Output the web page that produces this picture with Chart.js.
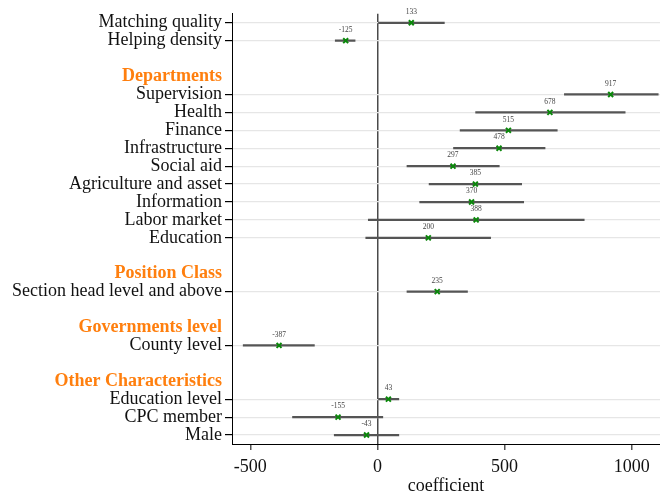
<!DOCTYPE html>
<html>
<head>
<meta charset="utf-8">
<script src="https://cdn.jsdelivr.net/npm/chart.js@4.4.1/dist/chart.umd.min.js"></script>
<style>
  body { margin: 0; background: #fff; }
  #wrap { width: 660px; height: 494px; }
</style>
</head>
<body>
<div id="wrap"><canvas id="CoefChart"></canvas></div>
<script>
// rows from top to bottom; null coef = header or spacer row
const rowLabels = ['Matching quality', 'Helping density', ' ', 'Departments', 'Supervision', 'Health', 'Finance',
    'Infrastructure', 'Social aid', 'Agriculture and asset', 'Information', 'Labor market', 'Education', '  ',
    'Position Class', 'Section head level and above', '   ', 'Governments level', 'County level', '    ',
    'Other Characteristics', 'Education level', 'CPC member', 'Male'];
const headerRows = ['Departments', 'Position Class', 'Governments level', 'Other Characteristics'];
const coefs = [133, -125, null, null, 917, 678, 515, 478, 297, 385, 370, 388, 200, null,
    null, 235, null, null, -387, null, null, 43, -155, -43];
const ciLow = [4, -166, null, null, 735, 386, 325, 299, 116, 203, 166, -36, -46, null,
    null, 116, null, null, -528, null, null, 4, -334, -170];
const ciHigh = [263, -88, null, null, 1104, 974, 707, 659, 479, 567, 575, 813, 445, null,
    null, 354, null, null, -248, null, null, 84, 21, 84];
const xTicks = [-500, 0, 500, 1000];

const isData = i => coefs[i] !== null;

const valueLabels = {
    id: 'valueLabels',
    afterDatasetsDraw(chart) {
        const ctx = chart.ctx;
        const xs = chart.scales.x, ys = chart.scales.y;
        ctx.save();
        ctx.font = '7.5px "Liberation Serif"';
        ctx.fillStyle = '#444';
        ctx.textAlign = 'center';
        ctx.textBaseline = 'bottom';
        coefs.forEach((v, i) => {
            if (v === null) return;
            ctx.fillText(String(v), xs.getPixelForValue(v), ys.getPixelForValue(i) - 7);
        });
        ctx.restore();
    }
};

const ctxCoef = document.getElementById('CoefChart');
const dataCoef = {
    labels: rowLabels,
    datasets: [
        {
            type: 'scatter',
            label: 'coef',
            data: coefs.map((v, i) => v === null ? null : { x: v, y: rowLabels[i] }).filter(p => p),
            pointStyle: 'crossRot',
            pointRadius: 3.5,
            borderColor: '#0a870a',
            backgroundColor: '#0a870a',
            borderWidth: 2,
            order: 0
        },
        {
            type: 'bar',
            label: 'ci',
            data: ciLow.map((v, i) => v === null ? null : [v, ciHigh[i]]),
            backgroundColor: '#555',
            barThickness: 1.6,
            order: 1
        }
    ]
};
const configCoef = {
    data: dataCoef,
    plugins: [valueLabels],
    options: {
        indexAxis: 'y',
        responsive: true,
        maintainAspectRatio: false,
        animation: false,
        layout: { autoPadding: false, padding: { top: 12, right: 0, bottom: 0, left: 0 } },
        plugins: { legend: { display: false }, tooltip: { enabled: false } },
        scales: {
            x: {
                type: 'linear',
                min: -572,
                max: 1111,
                afterBuildTicks: scale => { scale.ticks = xTicks.map(v => ({ value: v })); },
                afterFit: scale => { scale.height = 50; scale.paddingLeft = 0; scale.paddingRight = 0; },
                border: { color: '#000', width: 1 },
                grid: {
                    color: c => c.tick && c.tick.value === 0 ? '#4a4a4a' : 'rgba(0,0,0,0)',
                    lineWidth: 1.5,
                    tickColor: '#555',
                    tickLength: 6
                },
                ticks: {
                    color: '#111',
                    font: { family: 'Liberation Serif', size: 18 },
                    padding: 6,
                    callback: v => String(v)
                },
                title: {
                    display: true,
                    text: 'coefficient',
                    color: '#111',
                    font: { family: 'Liberation Serif', size: 18 },
                    padding: { top: 0, bottom: -3 }
                }
            },
            y: {
                type: 'category',
                offset: true,
                afterFit: scale => { scale.width = 232; },
                border: { color: '#000', width: 1 },
                grid: {
                    offset: false,
                    color: c => isData(c.index) ? '#e6e6e6' : 'rgba(0,0,0,0)',
                    tickColor: c => isData(c.index) ? '#000' : 'rgba(0,0,0,0)',
                    tickLength: 7,
                    lineWidth: 1.2
                },
                ticks: {
                    autoSkip: false,
                    padding: 3,
                    color: c => headerRows.includes(rowLabels[c.index]) ? '#ff7f0e' : '#111',
                    font: c => headerRows.includes(rowLabels[c.index])
                        ? { family: 'Liberation Serif', size: 18, weight: 'bold' }
                        : { family: 'Liberation Serif', size: 18 }
                }
            }
        }
    }
};
new Chart(ctxCoef, configCoef);
</script>
</body>
</html>
